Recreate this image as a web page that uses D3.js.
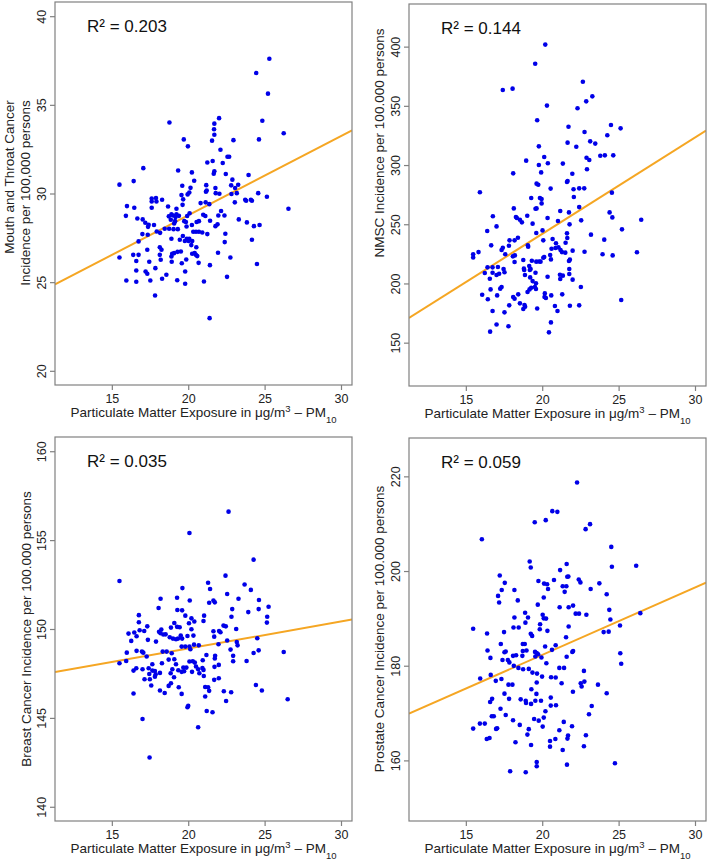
<!DOCTYPE html>
<html>
<head>
<meta charset="utf-8">
<script src="https://cdn.jsdelivr.net/npm/d3@7"></script>
<style>
  html, body { margin: 0; padding: 0; background: #fff; }
  svg { display: block; }
  text { font-family: "Liberation Sans", Arial, sans-serif; }
</style>
</head>
<body>
<svg id="chart" width="709" height="859"></svg>
<script>
// ---------------- DATA ----------------
const xTicks = [15, 20, 25, 30];
const xDomain = [11.28, 30.72];

const mouthYTicks = [20, 25, 30, 35, 40];
const nmscYTicks = [150, 200, 250, 300, 350, 400];
const breastYTicks = [140, 145, 150, 155, 160];
const prostateYTicks = [160, 180, 200, 220];

const mouthYDomain = [19.2, 40.8];
const nmscYDomain = [113.4, 436];
const breastYDomain = [139.2, 160.8];
const prostateYDomain = [147.2, 228.1];

const r2Labels = ["R² = 0.203", "R² = 0.144", "R² = 0.035", "R² = 0.059"];
// regression lines: [intercept, slope]
const mouthFit = [19.83, 0.447];
const nmscFit = [79.0, 8.14];
const breastFit = [145.86, 0.152];
const prostateFit = [153.8, 1.424];

const mouthPoints = [
[25.31,37.6],[24.45,36.8],[25.22,35.63],[24.85,34.1],[26.25,33.4],[24.63,33.05],[18.77,34.0],[22.02,34.25],[21.71,33.94],[21.69,33.62],
[21.71,33.31],[21.56,32.98],[22.96,33.01],[19.71,33.05],[19.98,32.66],[22.11,32.47],[22.57,32.07],[22.68,32.07],[21.60,31.83],[21.25,31.75],
[22.26,31.72],[17.06,31.43],[19.34,31.30],[20.24,31.19],[21.71,31.25],[21.67,31.11],[22.46,31.10],[23.95,31.04],[20.39,30.72],[22.89,30.78],
[16.43,30.70],[15.50,30.5],[19.61,30.44],[21.18,30.47],[22.81,30.46],[23.27,30.49],[20.15,30.32],[23.07,30.31],[21.78,30.31],[21.21,30.17],
[21.16,30.1],[20.07,30.06],[19.96,29.95],[19.56,29.91],[21.8,30.02],[22.04,29.99],[23.18,30.02],[22.83,29.97],[24.58,30.02],[25.15,29.82],
[17.61,29.72],[17.89,29.74],[18.29,29.65],[19.67,29.67],[23.73,29.65],[24.1,29.65],
[17.61,29.55],[17.92,29.55],[15.99,29.29],[16.47,29.2],[15.92,28.74],[16.67,28.59],[17.02,28.54],[17.19,28.35],[17.41,28.24],[17.76,28.22],
[17.37,28.12],[17.61,29.2],[18.68,29.27],[19.23,29.14],[19.63,29.36],[18.9,28.82],[19.01,28.76],[19.23,28.82],[19.39,28.74],[19.17,28.67],
[18.73,28.71],[18.86,28.52],[19.14,28.44],[19.08,28.31],[19.74,28.44],[20.09,28.89],[19.93,28.73],[19.85,28.39],[19.89,28.14],[20.24,28.22],
[20.55,28.39],[20.7,28.44],[20.51,27.84],[20.33,27.84],[20.7,27.84],[20.92,27.8],[20.81,29.46],[21.14,29.5],[21.38,29.4],[20.98,28.8],
[21.12,28.73],[21.43,28.46],[21.25,27.71],[21.97,28.76],[22.15,29.01],[22.37,28.76],[21.78,28.16],[21.92,28.26],[23.05,29.5],[23.79,29.59],
[24.17,29.59],[23.31,28.54],[23.84,28.37],[24.3,28.16],[24.67,28.22],[22.43,27.73],[22.39,27.26],[21.95,26.66],[24.17,27.39],[26.56,29.14],
[16.75,27.3],[17.0,27.71],[17.35,27.67],[17.94,27.86],[18.16,27.78],[18.46,28.01],[18.75,28.01],[19.04,27.99],[19.32,27.99],[19.65,27.6],
[18.9,27.45],[19.45,27.39],[19.78,27.32],[19.91,27.45],[20.07,27.45],[20.02,27.32],[20.26,27.32],[20.2,27.09],[20.53,26.97],[18.14,26.97],
[18.25,26.83],[17.32,26.83],[15.5,26.39],[16.4,26.54],[16.75,26.54],[16.6,26.19],[18.14,26.54],[18.2,26.26],[17.45,26.15],[17.85,25.79],
[16.6,25.66],[17.21,25.6],[17.32,25.47],[15.95,25.09],[16.6,25.02],[17.52,25.09],[18.29,25.19],[18.57,25.42],[17.83,24.25],[18.9,26.45],
[18.95,26.6],[19.08,26.64],[19.3,26.71],[19.52,26.73],[18.92,26.15],[19.58,26.07],[19.87,26.28],[19.8,25.6],[19.28,25.11],[19.8,24.91],
[20.26,26.6],[20.42,26.64],[20.5,26.54],[20.59,26.47],[20.68,26.09],[21.03,25.04],[21.42,25.96],[21.4,22.97],[22.54,25.3],[22.76,26.39],
[24.5,26.02]
];

const nmscPoints = [
[20.2,401.7],[19.54,385.6],[17.42,363.4],[18.06,364.5],[22.66,370.4],[23.28,358.0],[22.88,353.8],[20.31,350.2],[22.31,347.9],[19.67,337.8],
[21.72,332.4],[24.5,333.8],[25.13,331.0],[24.26,325.1],[22.77,327.9],[19.78,315.8],[21.66,318.9],[22.23,315.5],[23.14,320.0],[23.47,318.1],
[20.13,306.8],[18.95,303.7],[19.78,300.0],[20.37,301.5],[21.35,301.2],[22.9,306.2],[23.08,304.3],[23.8,307.9],[24.1,308.2],[24.65,308.2],
[22.93,296.4],[18.1,293.0],[19.93,293.8],[21.97,292.7],[19.63,284.3],[19.74,283.4],[21.66,286.5],[21.62,285.7],[20.55,280.1],[22.05,279.5],
[22.42,280.3],[22.75,280.3],[15.92,277.0],[24.56,276.7],[19.28,272.2],[19.85,272.2],[19.96,271.3],[22.07,273.0],
[19.96,267.6],[19.56,263.1],[19.63,263.4],[18.14,263.4],[16.77,256.7],[18.28,256.1],[18.34,255.3],[18.54,253.8],[18.67,251.6],[19.02,257.2],
[19.37,250.5],[20.35,255.3],[21.03,252.7],[21.18,261.2],[21.75,260.0],[22.42,264.5],[24.41,260.0],[24.59,255.8],[26.48,253.8],[16.4,244.3],
[17.01,248.2],[19.61,242.6],[20.02,244.8],[21.79,249.9],[22.55,253.3],[25.22,245.7],[20.07,236.4],[20.68,237.5],[20.9,233.9],[21.06,230.5],
[21.2,228.2],[21.29,226.5],[21.51,226.0],[21.53,234.4],[21.62,242.3],[21.64,238.4],[21.99,227.7],[20.61,229.3],[20.87,229.9],[23.19,241.2],
[24.06,237.0],[22.77,226.8],[23.95,224.6],[24.61,223.7],[26.2,226.3],[15.48,224.6],[15.48,222.0],[15.83,226.5],[16.66,232.2],[17.34,228.2],
[17.42,230.2],[17.58,224.6],[17.86,236.4],[17.82,231.9],[18.19,236.4],[18.41,238.6],[19.06,232.2],[19.08,231.0],[18.08,222.9],[18.21,223.7],
[18.19,218.1],[18.76,219.8],[19.15,214.7],[19.32,219.2],[19.61,218.4],[19.79,218.6],[19.89,218.4],[20.07,221.7],[20.13,222.3],[20.57,220.3],
[20.52,224.0],[19.56,209.1],[18.8,212.5],[18.82,211.3],[19.24,212.2],[19.19,211.3],[18.87,207.1],[19.21,205.1],[19.37,202.0],[19.28,196.4],
[19.17,195.0],[19.04,192.8],[19.52,197.0],[19.59,200.1],[19.59,195.3],[20.35,205.7],[21.16,207.4],[21.18,203.7],[21.35,206.6],[21.77,208.0],
[21.77,212.2],[21.75,219.0],[21.81,220.1],[21.99,203.2],[22.53,197.0],[21.31,190.8],[20.17,191.6],[20.24,187.7],[20.15,188.5],[20.59,189.9],
[20.83,180.9],[21.0,176.7],[20.57,167.1],[20.44,158.7],[21.81,181.2],[22.42,181.5],[25.17,186.0],[19.67,178.9],[18.84,181.8],[18.88,180.4],
[18.76,178.4],[18.54,183.2],[18.43,190.8],[18.19,187.1],[18.1,188.5],[17.84,181.5],[17.53,175.6],[17.79,163.8],[17.01,165.4],[16.59,159.3],
[16.75,176.7],[16.44,186.6],[16.07,190.5],[16.62,195.0],[17.05,189.9],[17.34,197.0],[17.25,195.6],[17.01,207.1],[17.18,208.2],[17.53,209.4],
[17.47,212.2],[17.1,213.9],[16.75,213.6],[16.75,209.1],[16.42,213.6],[16.24,208.8],[16.57,204.0]
];

const breastPoints = [
[22.64,156.6],[20.08,155.4],[24.28,153.9],[15.5,152.7],[22.44,153.0],[21.3,152.6],[21.43,152.25],[23.69,152.5],[24.1,152.2],[19.62,152.3],
[22.55,151.97],[20.1,151.6],[18.19,151.7],[19.27,151.76],[21.37,151.48],[21.65,151.6],[21.74,151.5],[23.29,151.7],[24.63,151.63],[25.26,151.25],
[18.06,151.18],[19.29,151.07],[19.6,151.05],[22.88,151.12],[23.93,150.95],[24.61,151.12],[16.77,150.78],[19.81,150.75],[20.21,150.6],[21.04,150.75],
[22.83,150.69],[25.17,150.69],
[16.77,150.38],[17.32,150.15],[16.09,149.74],[16.47,149.8],[16.62,149.59],[16.82,149.93],[17.12,149.89],[16.27,149.33],[15.98,148.67],[15.94,148.2],
[15.5,148.07],[16.62,148.77],[16.97,148.73],[17.06,148.67],[17.28,148.45],[17.36,149.39],[17.89,149.29],[18.09,149.84],[18.24,149.97],[18.19,149.76],
[18.37,149.69],[18.52,149.7],[18.79,149.54],[18.87,150.08],[19.09,150.34],[19.0,149.46],[19.2,149.42],[19.27,150.12],[19.44,150.1],[19.51,149.63],
[19.6,149.46],[19.33,149.46],[19.95,149.61],[20.05,150.32],[20.21,149.99],[20.34,149.63],[20.4,150.42],[21.0,150.45],[21.65,149.87],[21.7,149.57],
[22.02,149.89],[22.11,149.82],[22.31,150.19],[22.46,150.15],[23.14,150.0],[25.15,150.36],[18.33,148.73],[18.59,148.73],[18.92,148.64],[19.57,149.01],
[19.81,149.01],[20.08,149.01],[20.38,149.12],[20.69,149.08],[20.14,148.86],[21.19,148.54],[21.76,148.49],[21.74,148.34],[21.98,149.14],[22.55,149.35],
[22.77,148.84],[23.18,149.27],[23.23,149.08],[22.94,148.49],[22.94,148.19],[23.82,148.2],[24.28,148.65],[24.61,148.8],[24.52,149.48],[26.25,148.71],
[18.72,148.28],[18.28,148.07],[17.65,148.02],[17.41,147.79],[17.01,147.74],[16.6,147.79],[16.42,147.66],[19.09,148.3],[19.2,148.02],[18.96,147.74],
[19.35,147.68],[19.57,147.59],[19.73,147.62],[19.68,147.83],[19.88,147.83],[20.08,148.17],[20.3,148.19],[20.43,148.11],[20.51,147.89],[20.65,147.74],
[20.93,147.81],[21.0,147.7],[20.95,148.24],[20.73,147.51],[21.02,147.36],[21.72,147.87],[22.0,147.98],[21.7,147.14],[22.0,147.23],[20.25,147.59],
[17.65,147.66],[17.82,147.64],[18.15,147.53],[17.45,147.47],[17.49,147.17],[17.87,147.45],[17.82,147.32],[17.58,146.82],[17.14,147.17],[18.85,147.51],
[18.87,146.95],[18.72,146.8],[19.07,147.29],[18.46,146.4],[18.15,146.54],[19.38,146.72],[19.57,146.35],[21.11,146.74],[21.3,146.72],[21.37,146.52],
[21.11,146.2],[22.33,146.5],[22.81,146.44],[22.48,145.95],[24.43,146.85],[24.82,146.54],[26.51,146.05],[16.42,146.37],[19.95,145.6],[20.0,145.68],
[21.21,145.39],[21.59,145.32],[20.65,144.47],[17.01,144.94],[17.47,142.77]
];

const prostatePoints = [
[22.28,218.7],[20.66,212.65],[20.99,212.5],[19.51,210.3],[20.23,210.75],[22.84,208.85],[23.13,209.9],[16.05,206.7],[24.52,205.1],[24.56,200.9],
[26.15,201.1],[19.18,202.0],[19.25,200.75],[21.6,201.5],[21.17,200.2],[21.64,198.8],[21.71,198.85],[22.39,198.2],[22.5,197.6],[17.22,199.05],
[17.55,197.5],[17.35,196.0],[17.11,194.75],[17.18,193.35],[18.18,196.0],[18.4,193.8],[19.75,197.9],[20.12,197.35],[20.32,197.2],[20.38,196.2],
[20.77,198.1],[21.34,196.8],[21.58,196.8],[21.47,195.6],[20.1,194.4],[19.71,192.9],[21.14,192.35],[21.73,192.35],[22.02,192.7],[23.17,196.2],
[23.74,197.4],[24.22,195.1],[24.39,191.8],[24.46,189.75],[26.42,191.1],[18.88,191.2],[18.18,190.2],[19.07,190.2],[20.03,190.75],[20.1,190.0],
[20.25,189.95],[22.19,191.0],[22.41,191.0],[22.89,190.75],
[15.48,187.8],[16.39,186.8],[17.5,187.1],[18.12,188.07],[18.46,188.07],[18.9,189.1],[19.25,186.73],[19.34,186.3],[19.84,187.7],[19.86,188.77],
[20.34,187.37],[21.73,188.28],[21.56,186.0],[24.02,187.1],[24.35,187.2],[25.09,188.5],[17.29,184.6],[16.42,183.2],[17.53,182.85],[17.61,183.0],
[16.61,181.65],[17.4,181.2],[17.75,181.2],[17.85,180.7],[18.09,182.08],[18.29,182.2],[18.73,184.6],[18.86,184.6],[18.73,183.1],[18.97,183.2],
[18.7,182.08],[19.53,182.92],[19.64,182.7],[19.73,182.43],[19.55,181.94],[19.95,181.73],[20.19,184.05],[20.27,180.53],[20.64,183.35],[20.88,184.33],
[22.02,183.1],[21.97,182.9],[21.6,181.9],[25.11,182.64],[25.17,180.4],[18.14,179.97],[18.44,179.54],[18.75,179.26],[19.12,179.33],[19.36,178.55],
[19.66,178.34],[19.99,177.7],[21.12,179.54],[21.43,179.54],[20.58,177.57],[20.88,177.5],[21.27,176.3],[22.73,178.9],[22.76,176.65],[22.52,176.3],
[22.58,175.6],[23.65,176.0],[22.01,174.5],[24.22,174.2],[15.94,177.3],[16.63,178.06],[16.96,176.8],[17.33,177.2],[17.79,176.0],[18.05,176.0],
[17.53,174.1],[17.83,173.0],[16.72,173.0],[16.59,172.35],[17.27,170.9],[17.61,169.6],[18.59,172.9],[18.92,172.6],[18.94,172.14],[19.27,171.93],
[19.29,175.03],[19.62,174.05],[19.55,172.6],[19.92,172.6],[19.64,176.44],[20.56,173.27],[20.56,171.58],[20.9,171.65],[20.21,170.38],[20.1,169.04],
[19.77,168.4],[19.47,168.76],[20.03,167.14],[16.7,169.33],[16.83,169.33],[15.92,167.77],[16.24,167.77],[15.48,166.72],[16.98,166.65],[17.05,166.79],
[18.09,168.48],[18.53,167.5],[19.12,166.6],[19.03,165.45],[16.37,164.53],[16.55,164.74],[18.25,163.83],[19.27,163.26],[21.12,166.36],[21.41,168.13],
[21.95,167.2],[21.69,165.24],[21.65,164.6],[20.86,164.53],[20.51,164.1],[20.51,162.9],[21.34,162.2],[22.86,165.3],[22.73,162.98],[23.24,171.5],
[23.06,169.75],[19.64,159.67],[19.64,158.75],[21.62,159.1],[17.9,157.7],[18.92,157.5],[24.76,159.39]
];

const yTitles = [
  ["Mouth and Throat Cancer", "Incidence per 100,000 persons"],
  ["NMSC Incidence per 100.000 persons"],
  ["Breast Cancer Incidence per 100.000 persons"],
  ["Prostate Cancer Incidence per 100.000 persons"]
];

// ---------------- LAYOUT ----------------
const panels = [
  {left: 55, right: 352, top: 2, bottom: 385, yDomain: mouthYDomain, yTicks: mouthYTicks, pts: mouthPoints, fit: mouthFit, titleX: [9, 25], titleY: [177, 193]},
  {left: 409, right: 706, top: 4, bottom: 386, yDomain: nmscYDomain, yTicks: nmscYTicks, pts: nmscPoints, fit: nmscFit, titleX: [379], titleY: [143]},
  {left: 55, right: 352, top: 437, bottom: 821, yDomain: breastYDomain, yTicks: breastYTicks, pts: breastPoints, fit: breastFit, titleX: [26], titleY: [629]},
  {left: 409, right: 706, top: 438, bottom: 821, yDomain: prostateYDomain, yTicks: prostateYTicks, pts: prostatePoints, fit: prostateFit, titleX: [379], titleY: [629]}
];

const svg = d3.select("#chart");
const axisColor = "#808080";
const textColor = "#222";

panels.forEach((p, i) => {
  const x = d3.scaleLinear().domain(xDomain).range([p.left, p.right]);
  const y = d3.scaleLinear().domain(p.yDomain).range([p.bottom, p.top]);
  const g = svg.append("g");

  const clipId = "clip" + i;
  svg.append("clipPath").attr("id", clipId)
    .append("rect").attr("x", p.left).attr("y", p.top)
    .attr("width", p.right - p.left).attr("height", p.bottom - p.top);

  // regression line
  g.append("line")
    .attr("clip-path", `url(#${clipId})`)
    .attr("x1", x(xDomain[0])).attr("y1", y(p.fit[0] + p.fit[1] * xDomain[0]))
    .attr("x2", x(xDomain[1])).attr("y2", y(p.fit[0] + p.fit[1] * xDomain[1]))
    .attr("stroke", "#f5a623").attr("stroke-width", 2);

  // points
  g.append("g").selectAll("circle").data(p.pts).join("circle")
    .attr("cx", d => x(d[0])).attr("cy", d => y(d[1]))
    .attr("r", 2.3).attr("fill", "#0000e8");

  // box
  g.append("rect")
    .attr("x", p.left).attr("y", p.top)
    .attr("width", p.right - p.left).attr("height", p.bottom - p.top)
    .attr("fill", "none").attr("stroke", axisColor).attr("stroke-width", 1.2);

  // x axis
  const xa = g.append("g").attr("transform", `translate(0,${p.bottom})`)
    .call(d3.axisBottom(x).tickValues(xTicks).tickSize(5).tickSizeOuter(0).tickPadding(3));
  xa.select(".domain").remove();
  xa.selectAll("line").attr("stroke", axisColor).attr("stroke-width", 1.2);
  xa.selectAll("text").attr("fill", textColor).style("font-size", "12.5px")
    .attr("y", 18).attr("dy", 0);

  // y axis
  const ya = g.append("g").attr("transform", `translate(${p.left},0)`)
    .call(d3.axisLeft(y).tickValues(p.yTicks).tickSize(5).tickSizeOuter(0));
  ya.select(".domain").remove();
  ya.selectAll("line").attr("stroke", axisColor).attr("stroke-width", 1.2);
  ya.selectAll("text").attr("fill", textColor).style("font-size", "12.5px")
    .attr("transform", "rotate(-90)").attr("x", 0).attr("y", -9).attr("dy", 0)
    .attr("text-anchor", "middle");

  // R² label
  g.append("text").attr("x", p.left + 32).attr("y", p.top + 30)
    .attr("fill", "#111").style("font-size", "17px").text(r2Labels[i]);

  // x title
  const xt = g.append("text")
    .attr("x", (p.left + p.right) / 2).attr("y", p.bottom + 32)
    .attr("text-anchor", "middle").attr("fill", textColor).style("font-size", "13.5px");
  xt.append("tspan").text("Particulate Matter Exposure in μg/m");
  xt.append("tspan").attr("baseline-shift", "super").style("font-size", "9.5px").text("3");
  xt.append("tspan").text(" \u2013 PM");
  xt.append("tspan").attr("baseline-shift", "sub").style("font-size", "9.5px").text("10");

  // y title
  yTitles[i].forEach((line, k) => {
    g.append("text")
      .attr("transform", `translate(${p.titleX[k] + 5},${p.titleY[k]}) rotate(-90)`)
      .attr("text-anchor", "middle").attr("fill", textColor).style("font-size", "13.5px")
      .text(line);
  });
});
</script>
</body>
</html>
